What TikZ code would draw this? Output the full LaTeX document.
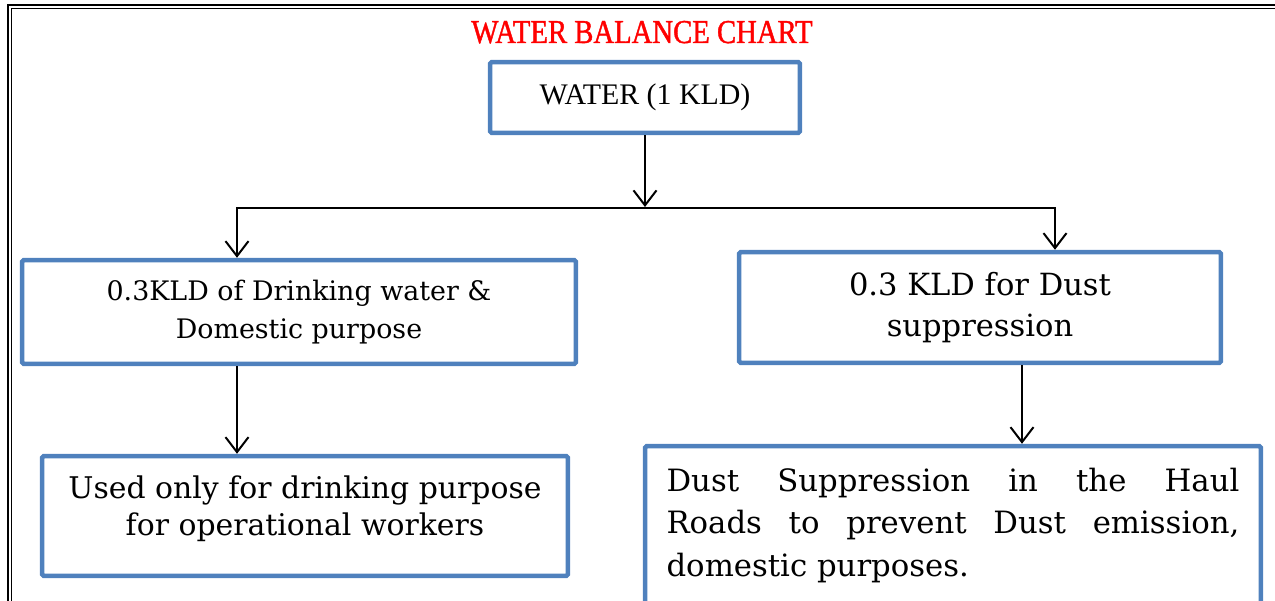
\documentclass[tikz,border=0pt]{standalone}
\usepackage{fontspec}
\setmainfont{DejaVu Serif}
\newfontfamily\timesfont{Liberation Serif}
\newfontfamily\titlefont[FakeStretch=0.86, FakeBold=1.2]{Liberation Serif}
\usetikzlibrary{positioning, arrows.meta}
\definecolor{boxblue}{HTML}{4F81BD}
\definecolor{titlered}{HTML}{FF0000}
\tikzset{
  flowbox/.style={draw=boxblue, line width=0.09cm, rounded corners=1pt,
    align=center, inner sep=0pt},
  flowline/.style={line width=0.04cm, black,
    >={Straight Barb[length=0.3cm, width=0.46cm]}}
}

\begin{document}
\begin{tikzpicture}[x=0.02cm, y=-0.02cm]
    \useasboundingbox (0,0) rectangle (1275,601);
    \clip (0,0) rectangle (1275,601);
    % Rahmen links und oben (doppelte Linie)
    \draw[line width=0.04cm] (8,620) -- (8,5.5) -- (1290,5.5);
    \draw[line width=0.02cm] (11.5,620) -- (11.5,8.5) -- (1290,8.5);
    % Titel
    \node[anchor=base, text=titlered, font=\titlefont\fontsize{19}{21}\selectfont]
      (title) at (642,43) {WATER BALANCE CHART};
    % Kaesten
    \node[flowbox, minimum width=6.2cm, minimum height=1.42cm,
      font=\timesfont\fontsize{17}{20}\selectfont] (water) at (645,97.5) {WATER (1 KLD)};
    \node[flowbox, minimum width=11.08cm, minimum height=2.08cm,
      font=\fontsize{15.3}{22}\selectfont] (drink) at (299,312)
      {0.3KLD of Drinking water \&\\Domestic purpose};
    \node[flowbox, minimum width=9.64cm, minimum height=2.22cm,
      font=\fontsize{17.4}{23.2}\selectfont] (dust) at (980,307.5)
      {0.3 KLD for Dust\\suppression};
    \node[flowbox, minimum width=10.52cm, minimum height=2.4cm, text depth=0.4cm,
      font=\fontsize{17}{21}\selectfont] (workers) at (305,516)
      {Used only for drinking purpose\\for operational workers};
    \node[flowbox, minimum width=12.32cm, minimum height=3.18cm, text width=11.46cm,
      align=justify, font=\fontsize{17.5}{24.2}\selectfont] (haul) at (953,525.5)
      {Dust Suppression in the Haul\linebreak Roads to prevent Dust emission, domestic purposes.};
    % Verbindungen
    \coordinate (split) at (645,207);
    \coordinate (lsplit) at (237,208);
    \coordinate (rsplit) at (1055,208);
    \coordinate (rdrop) at (1022,0);
    \draw[flowline, ->] (water.south) -- (split);
    \draw[flowline, <->] (lsplit |- drink.north) -- (lsplit) -- (rsplit) -- (rsplit |- dust.north);
    \draw[flowline, ->] (lsplit |- drink.south) -- (lsplit |- workers.north);
    \draw[flowline, ->] (rdrop |- dust.south) -- (rdrop |- haul.north);
\end{tikzpicture}
\end{document}
